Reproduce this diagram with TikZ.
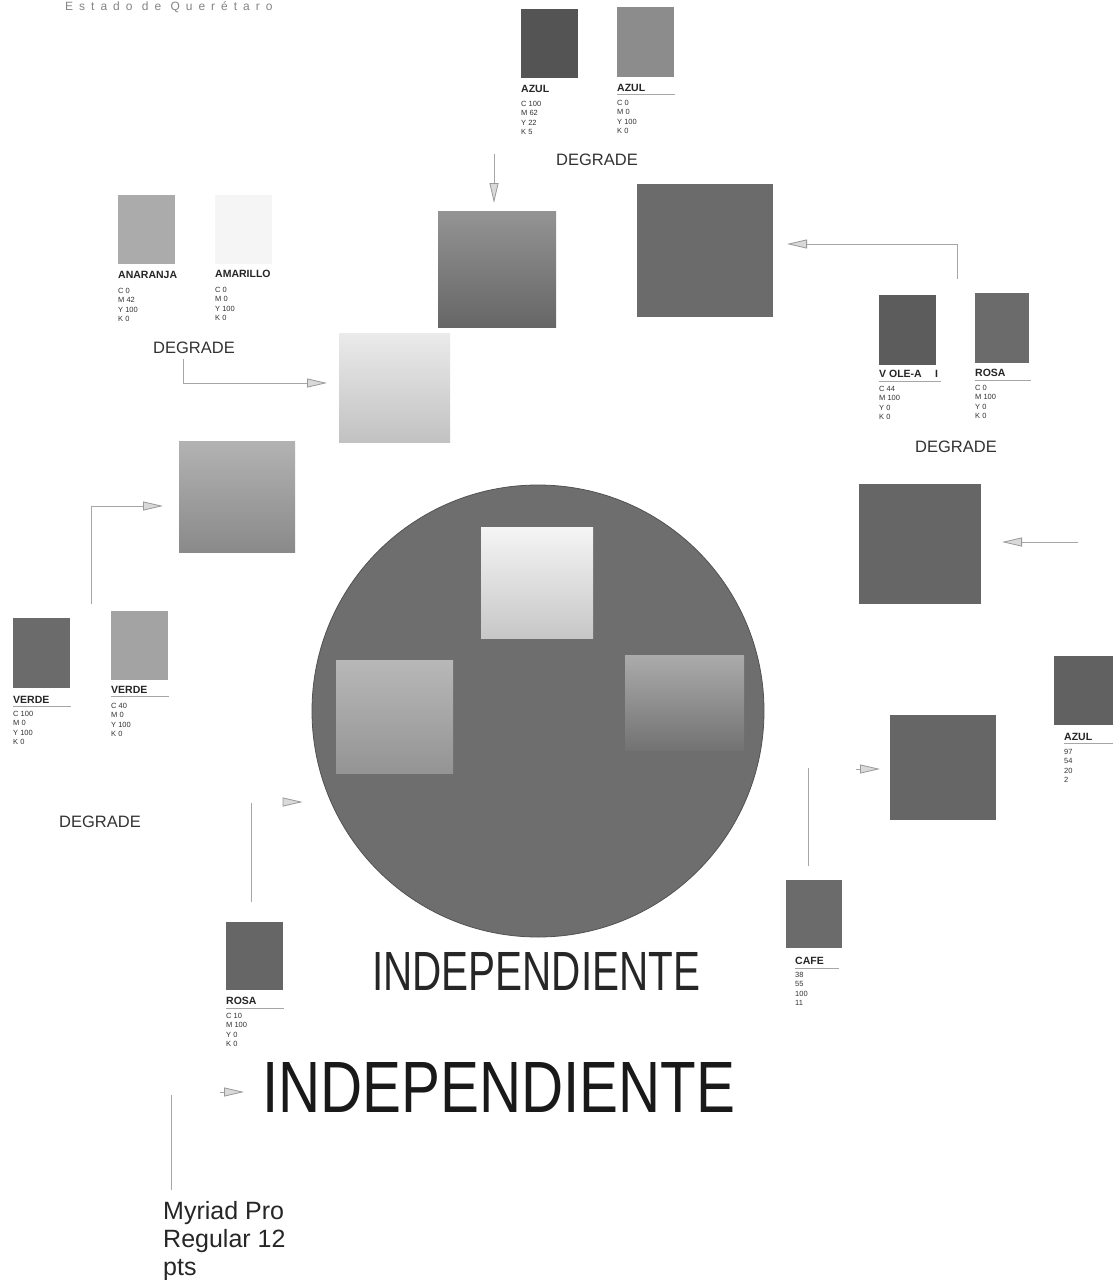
\documentclass[tikz,border=0pt]{standalone}
\usepackage{graphicx}
\usepackage{fontspec}
\setmainfont{Liberation Sans}
\newfontfamily\spacedfont[LetterSpace=50]{Liberation Sans}
\usetikzlibrary{arrows.meta}
\begin{document}
\begin{tikzpicture}[x=1pt,y=-1pt,
  chip/.style={draw=none, inner sep=0pt, outer sep=0pt, anchor=north west},
  ttl/.style={font=\fontsize{10.5}{11}\selectfont\bfseries, inner sep=0pt, anchor=north west, text=black!85},
  cmyk/.style={font=\fontsize{7.5}{9.5}\selectfont, inner sep=0pt, anchor=north west, align=left, text=black!80},
  degr/.style={font=\fontsize{16.5}{18}\selectfont, text=black!80, inner sep=0pt},
  conn/.style={draw=black!35, line width=0.8pt},
  arr/.style={conn, -{Triangle[length=20pt,width=9pt,fill=black!15,color=black!40]}},
  uline/.style={draw=black!35, line width=0.5pt}]
\fill[white] (0,0) rectangle (1112,1280);
\useasboundingbox (0,0) rectangle (1112,1280);

% header
\node[anchor=base west, inner sep=0pt, text=black!48, font=\fontsize{12}{13}\spacedfont] (hdr) at (65,10) {Estado de Querétaro};

% ---------- top swatches ----------
\node[chip, minimum width=57pt, minimum height=69pt, fill=black!67] (azA) at (521,9) {};
\node[ttl] (azAt) at (521,85) {AZUL};
\node[cmyk] (azAc) at (521,101) {C 100\\M 62\\Y 22\\K 5};
\node[chip, minimum width=57pt, minimum height=70pt, fill=black!45] (azB) at (617,7) {};
\node[ttl] (azBt) at (617,84) {AZUL};
\draw[uline] ([yshift=-3pt]azBt.south west) -- ++(58,0);
\node[cmyk] (azBc) at (617,100) {C 0\\M 0\\Y 100\\K 0};
\node[degr] (dg1) at (597,160) {DEGRADE};

\node[chip, minimum width=118pt, minimum height=116pt, top color=black!42, bottom color=black!60] (sq1) at (438,211) {};
\node[chip, minimum width=136pt, minimum height=133pt, fill=black!58] (sq2) at (637,184) {};
\coordinate (a1s) at (494,154);
\draw[arr, shorten >=8pt] (a1s) -- (a1s |- sq1.north);

% ---------- right-top swatches ----------
\node[chip, minimum width=57pt, minimum height=70pt, fill=black!64] (vio) at (879,295) {};
\node[ttl] (viot) at (879,370) {V OLE-A \quad I};
\draw[uline] ([yshift=-3pt]viot.south west) -- ++(62,0);
\node[cmyk] (vioc) at (879,386) {C 44\\M 100\\Y 0\\K 0};
\node[chip, minimum width=54pt, minimum height=70pt, fill=black!58] (rosR) at (975,293) {};
\node[ttl] (rosRt) at (975,369) {ROSA};
\draw[uline] ([yshift=-3pt]rosRt.south west) -- ++(56,0);
\node[cmyk] (rosRc) at (975,385) {C 0\\M 100\\Y 0\\K 0};
\node[degr] (dg2) at (956,447) {DEGRADE};
\coordinate (a2s) at (957,279);
\coordinate (a2k) at (957,244);
\draw[arr, shorten >=14pt] (a2s) -- (a2k) -- (sq2.east |- a2k);

\node[chip, minimum width=122pt, minimum height=120pt, fill=black!60] (sq3) at (859,484) {};
\coordinate (a3s) at (1078,542);
\draw[arr, shorten >=21pt] (a3s) -- (a3s -| sq3.east);

% ---------- right swatches ----------
\node[chip, minimum width=60pt, minimum height=69pt, fill=black!62] (azR) at (1054,656) {};
\node[ttl] (azRt) at (1064,733) {AZUL};
\draw[uline] ([yshift=-3pt]azRt.south west) -- ++(52,0);
\node[cmyk] (azRc) at (1064,749) {97\\54\\20\\2};
\node[chip, minimum width=106pt, minimum height=105pt, fill=black!60] (sq4) at (890,715) {};
\node[chip, minimum width=56pt, minimum height=68pt, fill=black!58] (cafe) at (786,880) {};
\node[ttl] (cafet) at (795,957) {CAFE};
\draw[uline] ([yshift=-3pt]cafet.south west) -- ++(44,0);
\node[cmyk] (cafec) at (795,972) {38\\55\\100\\11};
\coordinate (a4s) at (808,866);
\coordinate (a4k) at (808,768);
\draw[conn] (a4s) -- (a4k);
\coordinate (a4h) at (856,769);
\draw[arr, shorten >=10pt] (a4h) -- (sq4.west |- a4h);

% ---------- left-top swatches ----------
\node[chip, minimum width=57pt, minimum height=69pt, fill=black!33] (nar) at (118,195) {};
\node[ttl] (nart) at (118,271) {ANARANJA};
\node[cmyk] (narc) at (118,288) {C 0\\M 42\\Y 100\\K 0};
\node[chip, minimum width=57pt, minimum height=69pt, fill=black!4] (ama) at (215,195) {};
\node[ttl] (amat) at (215,270) {AMARILLO};
\node[cmyk] (amac) at (215,287) {C 0\\M 0\\Y 100\\K 0};
\node[degr] (dg3) at (194,348) {DEGRADE};
\node[chip, minimum width=111pt, minimum height=109pt, top color=black!8, bottom color=black!24] (sq5) at (339,333) {};
\coordinate (a5s) at (183,359);
\coordinate (a5k) at (183,383);
\draw[arr, shorten >=12pt] (a5s) -- (a5k) -- (sq5.west |- a5k);

\node[chip, minimum width=116pt, minimum height=111pt, top color=black!30, bottom color=black!46] (sq6) at (179,441) {};

% ---------- left swatches ----------
\node[chip, minimum width=57pt, minimum height=70pt, fill=black!58] (verA) at (13,618) {};
\node[ttl] (verAt) at (13,696) {VERDE};
\draw[uline] ([yshift=-3pt]verAt.south west) -- ++(58,0);
\node[cmyk] (verAc) at (13,711) {C 100\\M 0\\Y 100\\K 0};
\node[chip, minimum width=57pt, minimum height=69pt, fill=black!36] (verB) at (111,611) {};
\node[ttl] (verBt) at (111,686) {VERDE};
\draw[uline] ([yshift=-3pt]verBt.south west) -- ++(58,0);
\node[cmyk] (verBc) at (111,703) {C 40\\M 0\\Y 100\\K 0};
\node[degr] (dg4) at (100,822) {DEGRADE};
\coordinate (a6s) at (91,604);
\coordinate (a6k) at (91,506);
\draw[arr, shorten >=16pt] (a6s) -- (a6k) -- (sq6.west |- a6k);

% ---------- central disc ----------
\node[circle, minimum size=452pt, inner sep=0pt, fill=black!57, draw=black!68, line width=0.8pt] (disc) at (538,711) {};
\node[chip, minimum width=112pt, minimum height=111pt, top color=black!4, bottom color=black!22] (inT) at (481,527) {};
\node[chip, minimum width=117pt, minimum height=113pt, top color=black!28, bottom color=black!42] (inL) at (336,660) {};
\node[chip, minimum width=119pt, minimum height=95pt, top color=black!33, bottom color=black!55] (inR) at (625,655) {};

% ---------- bottom ----------
\node[chip, minimum width=57pt, minimum height=68pt, fill=black!60] (rosB) at (226,922) {};
\node[ttl] (rosBt) at (226,997) {ROSA};
\draw[uline] ([yshift=-3pt]rosBt.south west) -- ++(58,0);
\node[cmyk] (rosBc) at (226,1013) {C 10\\M 100\\Y 0\\K 0};
\coordinate (a7s) at (251,902);
\coordinate (a7k) at (251,803);
\draw[conn] (a7s) -- (a7k);
\coordinate (a7h) at (300,802);
\draw[arr, shorten >=9pt] (a7h) -- (disc.west |- a7h);

\node[inner sep=0pt, anchor=north west, text=black!85] (ind1) at (372,952) {\resizebox{328pt}{38pt}{INDEPENDIENTE}};
\node[inner sep=0pt, anchor=north west, text=black!90] (ind2) at (262,1062) {\resizebox{473pt}{50pt}{INDEPENDIENTE}};
\coordinate (a8s) at (171,1190);
\coordinate (a8k) at (171,1095);
\draw[conn] (a8s) -- (a8k);
\coordinate (a8h) at (220,1092);
\draw[arr, shorten >=18pt] (a8h) -- (ind2.west |- a8h);

\node[anchor=north west, align=left, inner sep=0pt, text=black!85, font=\fontsize{25}{28}\selectfont] (myr) at (163,1201) {Myriad Pro\\Regular 12\\pts};
\end{tikzpicture}
\end{document}
